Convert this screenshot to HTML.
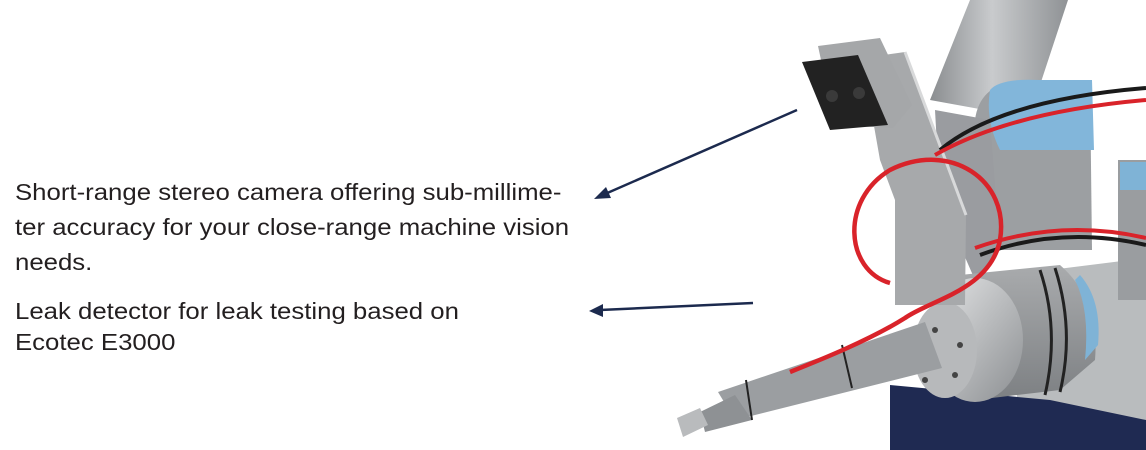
<!DOCTYPE html>
<html><head><meta charset="utf-8"><style>
html,body{margin:0;padding:0;background:#fff;}
body{width:1146px;height:450px;position:relative;overflow:hidden;font-family:"Liberation Sans",Arial,sans-serif;}
.t{position:absolute;left:15px;font-size:23px;line-height:35px;color:#231f20;white-space:nowrap;transform:scaleX(1.12);transform-origin:0 0;}
svg{position:absolute;left:0;top:0;}
</style></head><body>
<svg width="1146" height="450" viewBox="0 0 1146 450">
<defs>
<linearGradient id="cyl" x1="0" y1="0" x2="1" y2="0"><stop offset="0" stop-color="#8a8d90"/><stop offset=".45" stop-color="#c9cbcd"/><stop offset="1" stop-color="#8f9295"/></linearGradient>
<linearGradient id="gr" x1="0" y1="0" x2="0" y2="1"><stop offset="0" stop-color="#a9abad"/><stop offset="1" stop-color="#7d8083"/></linearGradient>
<linearGradient id="sil" x1="0" y1="0" x2="1" y2="1"><stop offset="0" stop-color="#e6e7e8"/><stop offset="1" stop-color="#8c8f92"/></linearGradient>
</defs>
<polygon points="1010,275 1146,258 1146,450 1020,450" fill="#b9bcbe"/>
<polygon points="890,385 1050,400 1146,420 1146,450 890,450" fill="#1f2a52"/>
<rect x="1118" y="160" width="28" height="140" fill="#9a9da0"/>
<rect x="1120" y="162" width="26" height="28" fill="#7fb3d6"/>
<polygon points="970,0 1068,0 1040,85 985,110 930,100" fill="url(#cyl)"/>
<path d="M975,120 Q980,80 1030,80 L1090,80 L1092,250 L985,250 Z" fill="#9c9fa2"/>
<path d="M990,90 Q1000,78 1040,80 L1092,80 L1094,150 L1000,150 Q985,120 990,90Z" fill="#82b6da"/>
<polygon points="935,110 990,120 1000,250 975,280 940,200" fill="#9a9ca0"/>
<path d="M960,275 L1060,265 Q1100,300 1095,360 L1060,390 L975,400 Z" fill="url(#gr)"/>
<path d="M1080,275 Q1102,300 1098,345 L1085,360 Q1090,310 1075,280Z" fill="#7fb3d6"/>
<ellipse cx="975" cy="340" rx="48" ry="62" fill="url(#sil)"/>
<path d="M1040,270 Q1060,330 1045,395" stroke="#222" stroke-width="3" fill="none"/>
<path d="M1055,268 Q1075,330 1060,392" stroke="#222" stroke-width="3" fill="none"/>
<ellipse cx="945" cy="350" rx="32" ry="48" fill="#b7b9bb"/>
<circle cx="925" cy="380" r="3" fill="#444"/><circle cx="955" cy="375" r="3" fill="#444"/><circle cx="935" cy="330" r="3" fill="#444"/><circle cx="960" cy="345" r="3" fill="#444"/>
<polygon points="925,322 942,368 735,420 718,392" fill="#9b9ea1"/>
<polygon points="735,395 752,420 705,432 700,412" fill="#8e9194"/>
<polygon points="677,418 700,408 708,425 683,437" fill="#b9bbbd"/>
<line x1="842" y1="345" x2="852" y2="388" stroke="#222" stroke-width="2"/>
<line x1="746" y1="380" x2="752" y2="420" stroke="#222" stroke-width="2"/>
<polygon points="862,58 905,52 966,215 965,305 895,305 895,200 880,160" fill="#a7a9ab"/>
<line x1="905" y1="52" x2="966" y2="215" stroke="#d8d9da" stroke-width="3"/>
<polygon points="818,46 880,38 912,105 893,128 835,125" fill="#a5a7a9"/>
<polygon points="802,62 858,55 888,125 830,130" fill="#222"/>
<circle cx="832" cy="96" r="6" fill="#3a3a3a"/><circle cx="859" cy="93" r="6" fill="#3a3a3a"/>
<path d="M940,150 Q1000,100 1146,88" stroke="#1a1a1a" stroke-width="4" fill="none"/>
<path d="M935,155 Q1010,112 1146,100" stroke="#d9232a" stroke-width="4" fill="none"/>
<path d="M980,255 Q1060,225 1146,245" stroke="#1a1a1a" stroke-width="4" fill="none"/>
<path d="M975,248 Q1060,218 1146,238" stroke="#d9232a" stroke-width="4" fill="none"/>
<path d="M890,283 C845,270 840,200 890,170 C950,140 1010,180 1000,240 C990,290 930,300 905,318 C870,340 820,360 790,372" stroke="#d9232a" stroke-width="4.5" fill="none"/>
<line x1="797" y1="110" x2="605" y2="194" stroke="#1c2a4e" stroke-width="2.5"/>
<polygon points="594,199 606,187 611,198" fill="#1c2a4e"/>
<line x1="753" y1="303" x2="600" y2="310" stroke="#1c2a4e" stroke-width="2.5"/>
<polygon points="589,311 603,304 603,317" fill="#1c2a4e"/>
</svg>
<div class="t" style="top:175px;">Short-range stereo camera offering sub-millime-<br>ter accuracy for your close-range machine vision<br>needs.</div>
<div class="t" style="top:296px;line-height:31px;">Leak detector for leak testing based on<br>Ecotec E3000</div>
</body></html>
